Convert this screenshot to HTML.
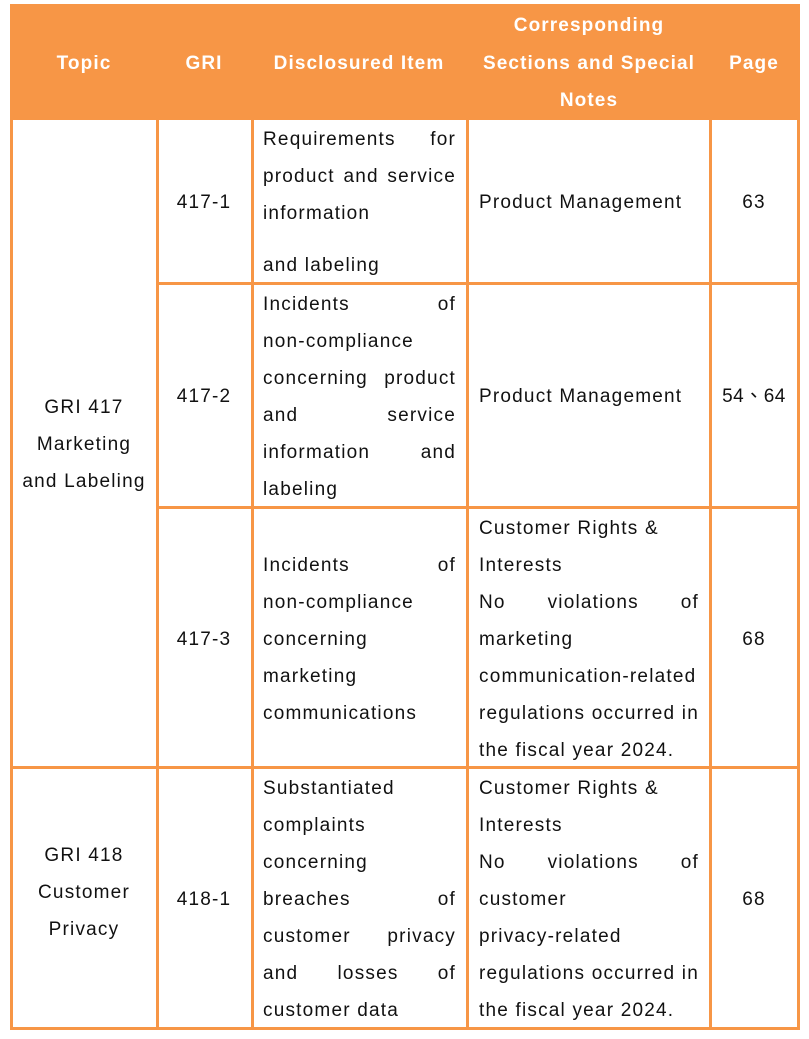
<!DOCTYPE html>
<html><head><meta charset="utf-8"><style>
body{margin:0;width:809px;height:1039px;background:#fff;position:relative;overflow:hidden;font-family:"Liberation Sans","Noto Sans CJK TC",sans-serif;}
.b{position:absolute;background:#F79646;}
.t{position:absolute;height:24px;line-height:24px;font-size:19px;color:#111;white-space:nowrap;letter-spacing:1.2px;margin-top:1px;}
.c{text-align:center;transform:translateX(-50%);}
.j{display:flex;justify-content:space-between;}
.h{color:#fff;font-weight:bold;font-size:19px;letter-spacing:1.1px;}
</style></head><body>
<div class="b" style="left:10px;top:4px;width:790px;height:116px"></div>
<div class="b" style="left:10px;top:4px;width:3px;height:1026px"></div>
<div class="b" style="left:156px;top:4px;width:3px;height:1026px"></div>
<div class="b" style="left:251px;top:4px;width:3px;height:1026px"></div>
<div class="b" style="left:466px;top:4px;width:3px;height:1026px"></div>
<div class="b" style="left:709px;top:4px;width:3px;height:1026px"></div>
<div class="b" style="left:797px;top:4px;width:3px;height:1026px"></div>
<div class="b" style="left:156px;top:282px;width:644px;height:3px"></div>
<div class="b" style="left:156px;top:506px;width:644px;height:3px"></div>
<div class="b" style="left:10px;top:766px;width:790px;height:3px"></div>
<div class="b" style="left:10px;top:1027px;width:790px;height:3px"></div>

<div class="t c h" style="left:84px;top:51px">Topic</div>
<div class="t c h" style="left:204px;top:51px">GRI</div>
<div class="t c h" style="left:359px;top:51px">Disclosured Item</div>
<div class="t c h" style="left:589px;top:13px">Corresponding</div>
<div class="t c h" style="left:589px;top:51px">Sections and Special</div>
<div class="t c h" style="left:589px;top:88px">Notes</div>
<div class="t c h" style="left:754px;top:51px">Page</div>

<div class="t c" style="left:84px;top:395px">GRI 417</div>
<div class="t c" style="left:84px;top:432px">Marketing</div>
<div class="t c" style="left:84px;top:469px">and Labeling</div>
<div class="t c" style="left:84px;top:843px">GRI 418</div>
<div class="t c" style="left:84px;top:880px">Customer</div>
<div class="t c" style="left:84px;top:917px">Privacy</div>

<div class="t c" style="left:204px;top:190px">417-1</div>
<div class="t c" style="left:204px;top:384px">417-2</div>
<div class="t c" style="left:204px;top:627px">417-3</div>
<div class="t c" style="left:204px;top:887px">418-1</div>

<div class="t c" style="left:754px;top:190px">63</div>
<div class="t c" style="left:754px;top:384px;letter-spacing:0.5px">54、64</div>
<div class="t c" style="left:754px;top:627px">68</div>
<div class="t c" style="left:754px;top:887px">68</div>

<div class="t j" style="left:263px;width:193px;top:127px"><span>Requirements</span><span>for</span></div>
<div class="t j" style="left:263px;width:193px;top:164px"><span>product</span><span>and</span><span>service</span></div>
<div class="t" style="left:263px;top:201px">information</div>
<div class="t" style="left:263px;top:253px">and labeling</div>
<div class="t j" style="left:263px;width:193px;top:292px"><span>Incidents</span><span>of</span></div>
<div class="t" style="left:263px;top:329px">non-compliance</div>
<div class="t j" style="left:263px;width:193px;top:366px"><span>concerning</span><span>product</span></div>
<div class="t j" style="left:263px;width:193px;top:403px"><span>and</span><span>service</span></div>
<div class="t j" style="left:263px;width:193px;top:440px"><span>information</span><span>and</span></div>
<div class="t" style="left:263px;top:477px">labeling</div>
<div class="t j" style="left:263px;width:193px;top:553px"><span>Incidents</span><span>of</span></div>
<div class="t" style="left:263px;top:590px">non-compliance</div>
<div class="t" style="left:263px;top:627px">concerning</div>
<div class="t" style="left:263px;top:664px">marketing</div>
<div class="t" style="left:263px;top:701px">communications</div>
<div class="t" style="left:263px;top:776px">Substantiated</div>
<div class="t" style="left:263px;top:813px">complaints</div>
<div class="t" style="left:263px;top:850px">concerning</div>
<div class="t j" style="left:263px;width:193px;top:887px"><span>breaches</span><span>of</span></div>
<div class="t j" style="left:263px;width:193px;top:924px"><span>customer</span><span>privacy</span></div>
<div class="t j" style="left:263px;width:193px;top:961px"><span>and</span><span>losses</span><span>of</span></div>
<div class="t" style="left:263px;top:998px">customer data</div>

<div class="t" style="left:479px;top:190px">Product Management</div>
<div class="t" style="left:479px;top:384px">Product Management</div>
<div class="t" style="left:479px;top:516px">Customer Rights &amp;</div>
<div class="t" style="left:479px;top:553px">Interests</div>
<div class="t j" style="left:479px;width:220px;top:590px"><span>No</span><span>violations</span><span>of</span></div>
<div class="t" style="left:479px;top:627px">marketing</div>
<div class="t" style="left:479px;top:664px">communication-related</div>
<div class="t j" style="left:479px;width:220px;top:701px"><span>regulations</span><span>occurred</span><span>in</span></div>
<div class="t" style="left:479px;top:738px">the fiscal year 2024.</div>
<div class="t" style="left:479px;top:776px">Customer Rights &amp;</div>
<div class="t" style="left:479px;top:813px">Interests</div>
<div class="t j" style="left:479px;width:220px;top:850px"><span>No</span><span>violations</span><span>of</span></div>
<div class="t" style="left:479px;top:887px">customer</div>
<div class="t" style="left:479px;top:924px">privacy-related</div>
<div class="t j" style="left:479px;width:220px;top:961px"><span>regulations</span><span>occurred</span><span>in</span></div>
<div class="t" style="left:479px;top:998px">the fiscal year 2024.</div>
</body></html>
